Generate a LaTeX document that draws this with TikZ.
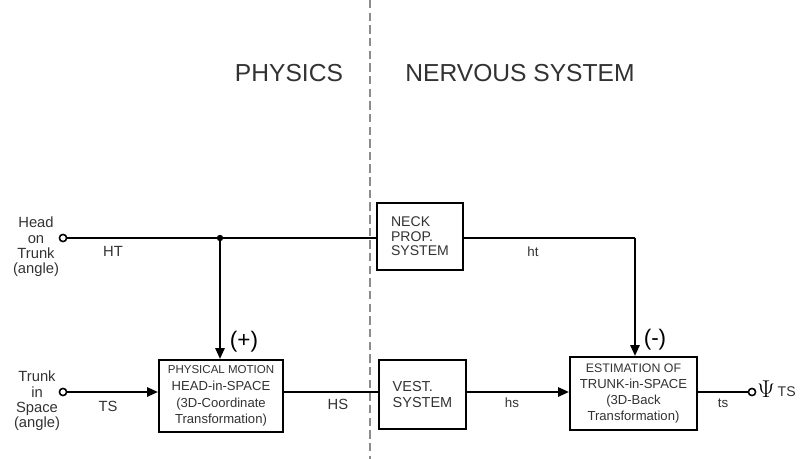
\documentclass[tikz,border=0pt]{standalone}
\usepackage{fontspec}
\setmainfont{Liberation Sans}
\usetikzlibrary{arrows.meta,positioning}
\definecolor{inkgray}{RGB}{50,50,50}
\definecolor{divgray}{RGB}{140,140,140}
\tikzset{
  sig/.style={line width=1.4pt},
  arr/.style={sig,-{Triangle[length=2.7mm,width=2.3mm]}},
  blk/.style={draw,line width=1.5pt,inner sep=0pt,text=inkgray,align=center},
  port/.style={circle,draw,line width=1.1pt,inner sep=0pt,minimum size=1.8mm,fill=white},
  sigtxt/.style={text=inkgray,font=\fontsize{10.5}{12}\selectfont},
  side/.style={text=inkgray,align=center,font=\fontsize{10.5}{10.9}\selectfont},
}
\begin{document}
\begin{tikzpicture}[x=0.25mm,y=-0.25mm]
\useasboundingbox (0,0) rectangle (808,459);
% border between the two domains
\draw[divgray,line width=0.9pt,dash pattern=on 6pt off 3pt] (370,0) -- (370,459);
\node[text=inkgray,font=\fontsize{17.5}{20}\selectfont] (physics) at (289,73) {PHYSICS};
\node[text=inkgray,font=\fontsize{17.5}{20}\selectfont] (nervous) at (520,73) {NERVOUS SYSTEM};
% inputs
\node[side] (hotxt) at (36,247) {Head\\on\\Trunk\\(angle)};
\node[side] (tstxt) at (37,401) {Trunk\\in\\Space\\(angle)};
\node[port] (hotin) at (63,238) {};
\node[port] (tsin) at (63,392) {};
% blocks
\node[blk,minimum width=31mm,minimum height=18mm,font=\fontsize{9.3}{12}\selectfont] (phys) at (221,396)
  {{\fontsize{8.2}{12}\selectfont PHYSICAL MOTION}\\HEAD-in-SPACE\\(3D-Coordinate\\Transformation)};
\node[blk,minimum width=21.5mm,minimum height=16.75mm,align=left,font=\fontsize{10}{10.4}\selectfont] (neck) at (420,236.5)
  {NECK\\PROP.\\SYSTEM};
\node[blk,minimum width=21.75mm,minimum height=17.25mm,align=left,font=\fontsize{10.3}{11.5}\selectfont] (vest) at (422.5,394.5)
  {VEST.\\SYSTEM};
\node[blk,minimum width=31.75mm,minimum height=18.25mm,font=\fontsize{9.3}{11.6}\selectfont] (est) at (633.5,393.5)
  {{\fontsize{8.8}{11.6}\selectfont ESTIMATION OF}\\TRUNK-in-SPACE\\(3D-Back\\Transformation)};
\coordinate (split) at (220,238);
\coordinate (bend) at (635,238);
\node[port] (tsout) at (752,392) {};
\node[anchor=west,inner sep=0pt,font=\fontsize{16}{18}\selectfont] (psi) at (757,389) {$\Psi$};
\node[anchor=west,inner sep=0pt,sigtxt,font=\fontsize{10}{11}\selectfont] (psits) at ([yshift=-0.6mm]psi.east) {\,TS};
% connectors
\draw[sig] (hotin) -- (hotin -| neck.west);
\draw[sig] (neck.east |- bend) -- (bend);
\draw[arr] (bend) -- (bend |- est.north);
\draw[arr] (split) -- (split |- phys.north);
\fill (split) circle (3.2);
\draw[arr] (tsin) -- (tsin -| phys.west);
\draw[sig] (phys.east |- tsin) -- (tsin -| vest.west);
\draw[arr] (vest.east |- tsin) -- (tsin -| est.west);
\draw[sig] (est.east |- tsout) -- (tsout);
% signal names
\node[sigtxt] (ht1) at (113,251) {HT};
\node[sigtxt] (ts1) at (108,406) {TS};
\node[sigtxt] (hs1) at (338,404) {HS};
\node[sigtxt,font=\fontsize{9.5}{11}\selectfont] (hs2) at (512,403) {hs};
\node[sigtxt,font=\fontsize{9.5}{11}\selectfont] (ht2) at (533,252) {ht};
\node[sigtxt,font=\fontsize{9.5}{11}\selectfont] (ts2) at (723,403) {ts};
\node[font=\fontsize{16}{18}\selectfont] (plus) at (244,342) {(+)};
\node[font=\fontsize{16}{18}\selectfont] (minus) at (655,340) {(-)};
\end{tikzpicture}
\end{document}
